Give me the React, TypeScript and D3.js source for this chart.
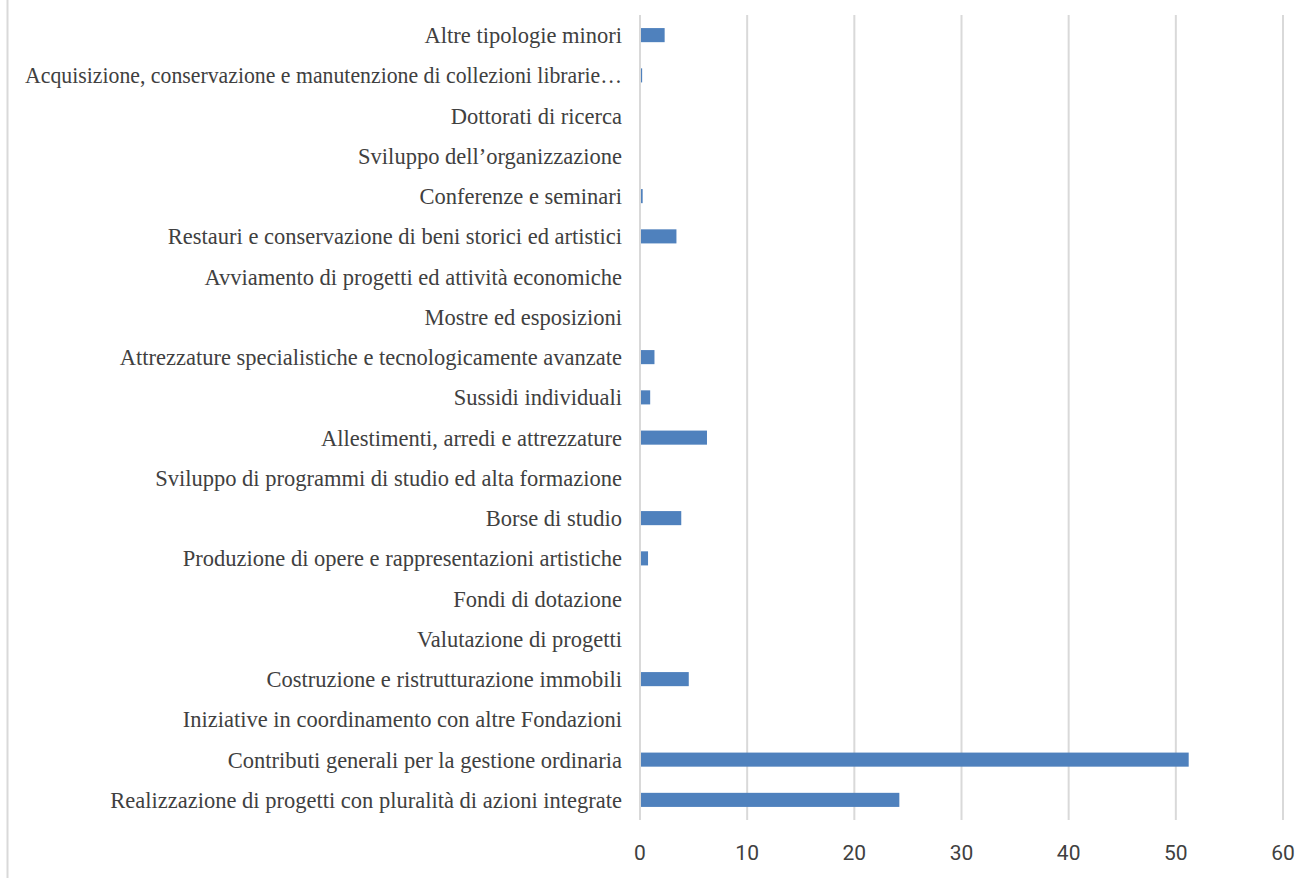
import { useEffect, useRef } from 'react';
import * as d3 from 'd3';

const categories = [
  'Altre tipologie minori',
  'Acquisizione, conservazione e manutenzione di collezioni librarie…',
  'Dottorati di ricerca',
  'Sviluppo dell’organizzazione',
  'Conferenze e seminari',
  'Restauri e conservazione di beni storici ed artistici',
  'Avviamento di progetti ed attività economiche',
  'Mostre ed esposizioni',
  'Attrezzature specialistiche e tecnologicamente avanzate',
  'Sussidi individuali',
  'Allestimenti, arredi e attrezzature',
  'Sviluppo di programmi di studio ed alta formazione',
  'Borse di studio',
  'Produzione di opere e rappresentazioni artistiche',
  'Fondi di dotazione',
  'Valutazione di progetti',
  'Costruzione e ristrutturazione immobili',
  'Iniziative in coordinamento con altre Fondazioni',
  'Contributi generali per la gestione ordinaria',
  'Realizzazione di progetti con pluralità di azioni integrate',
];

const values = [
  2.3, 0.2, 0, 0, 0.25, 3.4, 0, 0.05, 1.35, 0.95, 6.25, 0, 3.85, 0.75, 0, 0, 4.55, 0.03,
  51.2, 24.2,
];

const xTicks = [0, 10, 20, 30, 40, 50, 60];

const Chart = () => {
  const ref = useRef<SVGSVGElement>(null);

  useEffect(() => {
    const width = 1312;
    const height = 878;
    const margin = { top: 15, right: 29, bottom: 58, left: 640 };

    const svg = d3.select(ref.current);
    svg.selectAll('*').remove();

    const x = d3
      .scaleLinear()
      .domain([0, 60])
      .range([margin.left, width - margin.right]);

    const y = d3
      .scaleBand()
      .domain(categories)
      .range([margin.top, height - margin.bottom])
      .paddingInner(0.65)
      .paddingOuter(0.325);

    // left border of chart area
    svg
      .append('line')
      .attr('x1', 7.5)
      .attr('x2', 7.5)
      .attr('y1', 0)
      .attr('y2', height)
      .attr('stroke', '#d9d9d9')
      .attr('stroke-width', 2);

    // gridlines
    svg
      .append('g')
      .selectAll('line')
      .data(xTicks)
      .join('line')
      .attr('x1', (d) => x(d))
      .attr('x2', (d) => x(d))
      .attr('y1', margin.top)
      .attr('y2', height - margin.bottom)
      .attr('stroke', '#d9d9d9')
      .attr('stroke-width', 2);

    // bars
    svg
      .append('g')
      .attr('fill', '#4f81bd')
      .selectAll('rect')
      .data(values)
      .join('rect')
      .attr('x', x(0) + 1)
      .attr('y', (_, i) => y(categories[i])!)
      .attr('width', (d) => Math.max(0, x(d) - x(0) - 1))
      .attr('height', y.bandwidth());

    // category labels
    const labels = svg
      .append('g')
      .selectAll('text')
      .data(categories)
      .join('text')
      .attr('x', margin.left - 18)
      .attr('y', (d) => y(d)! + y.bandwidth() / 2)
      .attr('dy', '0.35em')
      .attr('text-anchor', 'end')
      .attr('font-family', '"Liberation Serif", "DejaVu Serif", serif')
      .attr('font-size', 22.5)
      .attr('fill', '#404040')
      .text((d) => d);

    // squeeze the truncated long label so it stays inside the frame
    labels.each(function () {
      const node = this as SVGTextElement;
      const w = node.getComputedTextLength();
      const maxW = margin.left - 18 - 25;
      if (w > maxW) {
        node.setAttribute('textLength', String(maxW));
        node.setAttribute('lengthAdjust', 'spacingAndGlyphs');
      }
    });

    // x tick labels
    svg
      .append('g')
      .selectAll('text')
      .data(xTicks)
      .join('text')
      .attr('x', (d) => x(d))
      .attr('y', 860)
      .attr('text-anchor', 'middle')
      .attr('font-family', '"Liberation Sans Narrow", "Roboto", sans-serif')
      .attr('font-size', 21)
      .attr('fill', '#404040')
      .text((d) => d);
  }, []);

  return <svg ref={ref} width={1312} height={878} />;
};

export default function App() {
  return (
    <div style={{ position: 'absolute', left: 0, top: 0, background: '#fff' }}>
      <Chart />
    </div>
  );
}
